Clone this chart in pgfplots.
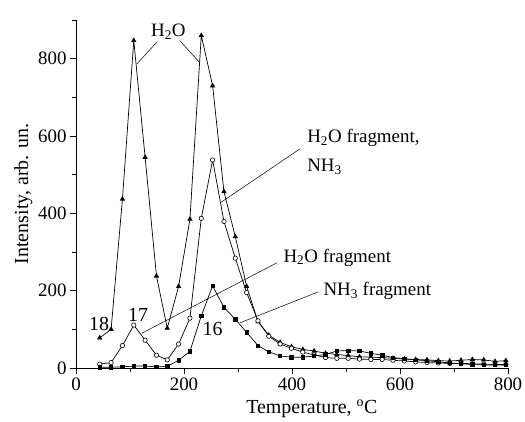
\documentclass[border=0pt]{standalone}
\usepackage{fontspec}
\setmainfont{Liberation Serif}
\usepackage{pgfplots}
\pgfplotsset{compat=1.18}
\usepackage{pgfplotstable}

\pgfplotstableread{
x    a    b    c
44   78   10   2
65   100  14   2
86   437  58   3
107  847  111  5
128  545  72   5
149  238  33   3
169  103  21   4
190  211  62   20
211  385  129  43
232  860  387  135
253  730  538  212
274  456  379  157
295  340  284  126
316  211  195  92
337  120  122  58
357  85   82   42
378  66   62   31
399  55   51   28
420  48   41   28
441  44   34   31
462  38   27   35
483  35   25   44
504  32   25   45
525  29   23   44
546  28   22   38
567  27   22   33
587  25   20   27
608  23   18   24
629  22   16   21
650  21   14   19
671  19   13   16
692  18   12   13
713  20   12   11
734  22   11   9
755  21   10   8
776  17   9    8
796  19   9    8
}\datatable

\begin{document}
\begin{tikzpicture}
\begin{axis}[
  scale only axis,
  width=432bp, height=348bp,
  xmin=0, xmax=800, ymin=0, ymax=900,
  axis x line=bottom, axis y line=left,
  axis line style={-, line width=0.8bp},
  xtick={0,200,...,800}, ytick={0,200,...,800},
  minor xtick={100,300,500,700},
  minor ytick={100,300,500,700,900},
  tick align=outside,
  major tick length=6bp, minor tick length=4bp,
  tick style={line width=0.8bp, black},
  /pgf/number format/assume math mode=true,
  tick label style={font=\fontsize{19}{22}\selectfont},
  label style={font=\fontsize{20}{23}\selectfont},
  xlabel={Temperature, \textsuperscript{o}C},
  ylabel={Intensity, arb. un.},
  xlabel style={at={(axis description cs:0.546,-0.132)}, anchor=base},
  ylabel style={at={(axis description cs:-0.111,0.5)}, anchor=base},
  clip=false,
]
\addplot[black, line width=0.7bp, mark=triangle*, mark size=2.4bp, mark options={solid}] table[x=x, y=a] {\datatable};
\addplot[black, line width=0.7bp, mark=*, mark size=2.2bp, mark options={fill=white, draw=black, line width=0.6bp}] table[x=x, y=b] {\datatable};
\addplot[black, line width=0.7bp, mark=square*, mark size=1.7bp] table[x=x, y=c] {\datatable};

\begin{scope}[font=\fontsize{19}{22}\selectfont]
\node[anchor=base] at (axis cs:171,858) {H\textsubscript{2}O};
\draw[line width=0.5bp] (axis cs:150.6,844) -- (axis cs:112.4,786);
\draw[line width=0.5bp] (axis cs:192,847) -- (axis cs:229,790);
\node[anchor=base west, inner sep=0pt] at (axis cs:428,584) {H\textsubscript{2}O fragment,};
\node[anchor=base west, inner sep=0pt] at (axis cs:428,507) {NH\textsubscript{3}};
\draw[line width=0.5bp] (axis cs:415,567) -- (axis cs:267,427);
\node[anchor=base west, inner sep=0pt] at (axis cs:384,274) {H\textsubscript{2}O fragment};
\draw[line width=0.5bp] (axis cs:372,272) -- (axis cs:122,90);
\node[anchor=base west, inner sep=0pt] at (axis cs:458,188) {NH\textsubscript{3} fragment};
\draw[line width=0.5bp] (axis cs:449,197) -- (axis cs:304,117);
\end{scope}
\begin{scope}[font=\fontsize{20}{23}\selectfont]
\node[anchor=base, inner sep=0pt] at (axis cs:42.6,98) {18};
\node[anchor=base, inner sep=0pt] at (axis cs:115,119) {17};
\node[anchor=base, inner sep=0pt] at (axis cs:253,85) {16};
\end{scope}
\end{axis}
\pgfresetboundingbox
\path[use as bounding box] (-76bp,-54bp) rectangle (449bp,368bp);
\end{tikzpicture}
\end{document}
